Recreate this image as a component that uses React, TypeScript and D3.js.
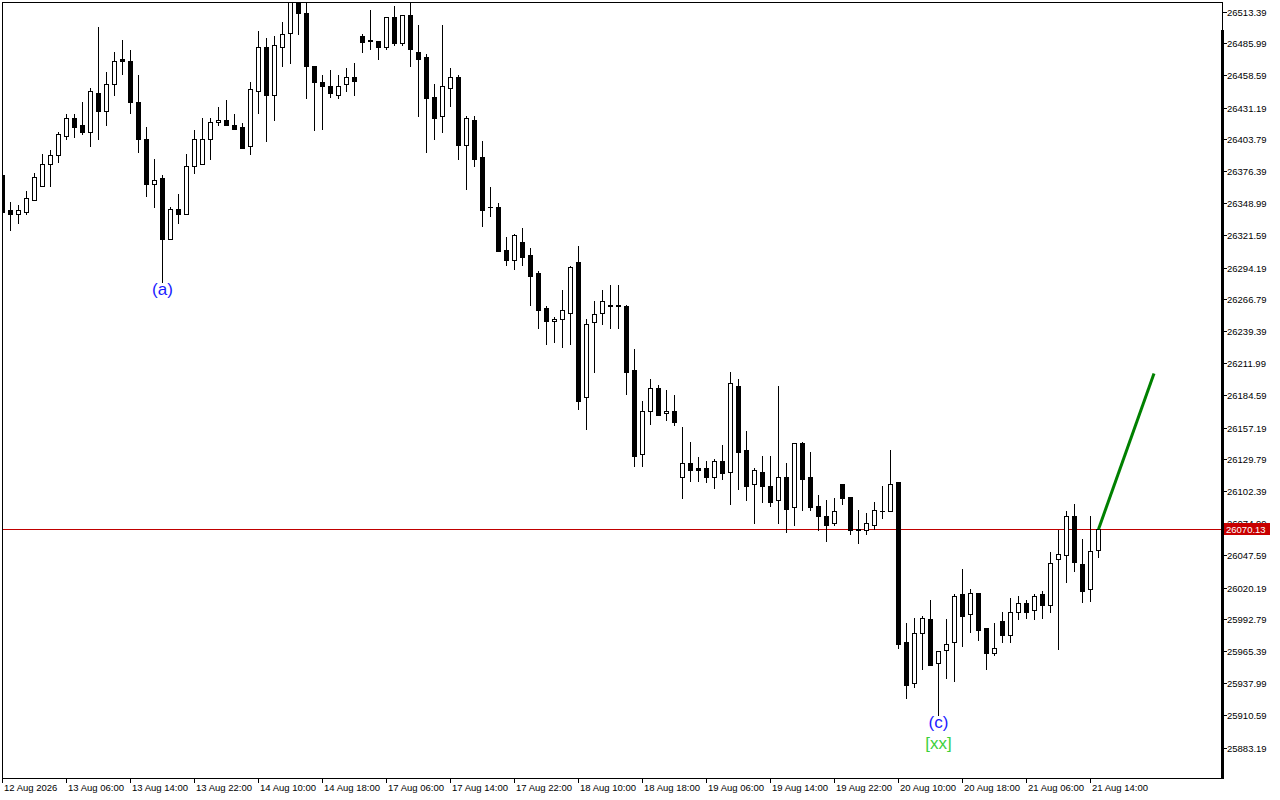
import { useMemo } from 'react';
import * as d3 from 'd3';

// hourly candles
const opens = [
  26373.0, 26343.0, 26339.6, 26342.1, 26352.4, 26364.4, 26383.2, 26390.9, 26407.2, 26422.6,
  26416.6, 26409.8, 26444.0, 26428.6, 26451.7, 26473.1, 26470.6, 26436.3, 26404.6, 26366.1,
  26371.2, 26318.2, 26344.7, 26340.4, 26380.7, 26383.2, 26403.8, 26419.2, 26420.9, 26416.6,
  26414.9, 26397.8, 26445.7, 26482.6, 26441.5, 26482.6, 26495.4, 26525.4, 26512.5, 26467.1,
  26453.4, 26450.0, 26442.3, 26450.9, 26456.9, 26492.8, 26489.4, 26488.5, 26482.6, 26509.1,
  26486.0, 26510.0, 26478.3, 26474.8, 26440.6, 26423.5, 26448.3, 26456.9, 26399.5, 26420.9,
  26388.4, 26346.4, 26346.4, 26309.6, 26300.2, 26316.4, 26305.3, 26289.9, 26259.9, 26248.8,
  26250.5, 26255.6, 26298.5, 26182.9, 26247.1, 26255.6, 26262.5, 26262.5, 26261.6, 26206.0,
  26134.9, 26170.9, 26190.6, 26169.2, 26171.7, 26115.2, 26127.2, 26122.1, 26122.9, 26114.4,
  26128.1, 26119.5, 26193.1, 26137.5, 26108.4, 26119.5, 26107.5, 26095.5, 26115.2, 26088.7,
  26144.3, 26114.4, 26090.4, 26081.8, 26075.0, 26109.2, 26098.1, 26070.7, 26069.8, 26074.1,
  26086.1, 26086.1, 26110.1, 25973.1, 25938.0, 25981.6, 25993.6, 25955.9, 25967.1, 25973.1,
  26015.0, 25997.1, 26015.9, 25985.1, 25963.7, 25991.1, 25979.1, 25999.6, 26007.3, 26000.5,
  26014.2, 26005.6, 26044.2, 26048.4, 26081.8, 26039.9, 26019.3, 26052.7,
];

const highs = [
  26374.7, 26350.7, 26348.1, 26360.1, 26374.7, 26391.8, 26394.4, 26410.6, 26425.2, 26426.0,
  26436.3, 26448.3, 26499.7, 26462.0, 26479.1, 26489.4, 26480.0, 26458.6, 26414.1, 26387.5,
  26373.8, 26345.6, 26356.7, 26391.8, 26411.5, 26422.6, 26421.8, 26432.0, 26437.2, 26425.2,
  26417.5, 26452.6, 26497.1, 26490.3, 26492.0, 26504.0, 26530.0, 26532.0, 26524.0, 26467.1,
  26459.4, 26463.7, 26459.4, 26465.4, 26468.9, 26494.5, 26515.1, 26488.5, 26509.1, 26517.7,
  26510.0, 26521.1, 26502.2, 26476.6, 26450.9, 26502.2, 26465.4, 26459.4, 26423.5, 26423.5,
  26402.9, 26363.5, 26349.0, 26319.9, 26323.3, 26327.6, 26311.3, 26290.8, 26261.6, 26251.4,
  26275.3, 26295.9, 26313.0, 26249.7, 26265.9, 26275.3, 26279.6, 26278.8, 26262.5, 26224.8,
  26180.3, 26199.1, 26194.0, 26189.7, 26185.4, 26157.2, 26145.2, 26132.3, 26128.1, 26129.8,
  26141.8, 26205.1, 26199.1, 26153.8, 26122.1, 26133.2, 26133.2, 26193.1, 26127.2, 26143.5,
  26145.2, 26135.8, 26099.8, 26095.5, 26097.2, 26109.2, 26098.1, 26086.9, 26084.4, 26093.0,
  26107.5, 26137.5, 26110.1, 25989.4, 25994.5, 25995.4, 26009.9, 25966.2, 25993.6, 26015.0,
  26036.4, 26019.3, 26015.9, 25985.1, 25989.4, 25998.8, 26010.8, 26013.3, 26009.9, 26014.2,
  26017.6, 26050.2, 26069.8, 26085.3, 26091.3, 26061.3, 26081.8, 26070.13,
];

const lows = [
  26340.4, 26325.9, 26331.9, 26340.4, 26351.6, 26364.4, 26364.4, 26384.1, 26403.8, 26406.3,
  26408.9, 26397.8, 26403.8, 26416.6, 26441.5, 26460.3, 26426.9, 26393.5, 26355.0, 26346.4,
  26282.2, 26318.2, 26332.7, 26340.4, 26374.7, 26383.2, 26386.7, 26415.8, 26415.8, 26413.2,
  26396.1, 26391.8, 26426.9, 26402.1, 26420.9, 26466.3, 26468.9, 26494.5, 26439.7, 26412.3,
  26413.2, 26440.6, 26438.9, 26445.7, 26441.5, 26479.1, 26481.7, 26472.3, 26481.7, 26485.1,
  26484.3, 26467.1, 26423.5, 26393.5, 26404.6, 26410.6, 26432.9, 26386.7, 26361.0, 26381.5,
  26329.3, 26338.7, 26307.9, 26296.7, 26292.5, 26296.7, 26262.5, 26242.8, 26228.3, 26230.8,
  26225.7, 26229.1, 26173.4, 26156.3, 26205.1, 26245.4, 26242.8, 26242.8, 26186.3, 26124.6,
  26124.6, 26160.6, 26168.3, 26163.2, 26159.7, 26097.2, 26111.8, 26111.8, 26110.1, 26105.8,
  26113.5, 26092.1, 26104.9, 26095.5, 26075.8, 26093.0, 26090.4, 26075.0, 26068.1, 26073.3,
  26086.9, 26086.9, 26069.8, 26059.6, 26074.1, 26092.1, 26066.4, 26057.9, 26065.6, 26070.7,
  26079.3, 26085.3, 25968.8, 25925.2, 25934.6, 25950.0, 25954.2, 25910.6, 25943.1, 25940.5,
  25969.7, 25982.5, 25975.6, 25950.8, 25962.0, 25973.1, 25973.1, 25993.6, 25994.5, 25992.8,
  25994.5, 25998.8, 25967.9, 26024.5, 26033.9, 26008.2, 26009.0, 26046.7,
];

const closes = [
  26342.1, 26339.6, 26343.0, 26353.3, 26372.1, 26383.2, 26390.9, 26408.1, 26422.6, 26414.9,
  26409.8, 26444.9, 26427.8, 26450.9, 26471.4, 26471.4, 26436.3, 26403.8, 26366.1, 26368.7,
  26318.2, 26344.7, 26339.6, 26380.7, 26404.6, 26403.8, 26419.2, 26420.9, 26415.8, 26413.2,
  26396.9, 26447.4, 26482.6, 26441.5, 26484.3, 26494.5, 26522.0, 26511.7, 26466.3, 26452.6,
  26449.2, 26443.2, 26450.0, 26457.7, 26454.3, 26487.7, 26488.5, 26482.6, 26509.1, 26486.0,
  26510.0, 26481.7, 26473.1, 26438.9, 26422.6, 26449.2, 26456.9, 26399.5, 26421.8, 26386.7,
  26343.8, 26345.6, 26308.7, 26300.2, 26321.6, 26303.6, 26287.3, 26258.2, 26248.8, 26250.5,
  26258.2, 26295.0, 26180.3, 26246.2, 26254.8, 26265.9, 26261.6, 26261.6, 26205.1, 26133.2,
  26170.9, 26190.6, 26168.3, 26171.7, 26162.3, 26126.4, 26120.4, 26121.2, 26115.2, 26128.9,
  26118.6, 26194.9, 26136.6, 26106.7, 26120.4, 26107.5, 26093.8, 26115.2, 26087.8, 26143.5,
  26113.5, 26089.5, 26081.0, 26074.1, 26086.1, 26097.2, 26069.8, 26069.8, 26075.0, 26086.9,
  26085.3, 26109.2, 25971.4, 25937.1, 25981.6, 25994.5, 25954.2, 25966.2, 25972.2, 26013.3,
  25995.4, 26015.9, 25983.4, 25963.7, 25968.8, 25979.1, 25998.8, 26007.3, 25998.8, 26013.3,
  26005.6, 26040.8, 26049.3, 26081.8, 26041.6, 26017.6, 26051.8, 26070.13,
];

// one label every 8 bars
const timeLabels = [
  '12 Aug 2026', '13 Aug 06:00', '13 Aug 14:00', '13 Aug 22:00', '14 Aug 10:00', '14 Aug 18:00',
  '17 Aug 06:00', '17 Aug 14:00', '17 Aug 22:00', '18 Aug 10:00', '18 Aug 18:00', '19 Aug 06:00',
  '19 Aug 14:00', '19 Aug 22:00', '20 Aug 10:00', '20 Aug 18:00', '21 Aug 06:00', '21 Aug 14:00',
];
const labelEvery = 8;

const priceTicks = [
  26513.39, 26485.99, 26458.59, 26431.19, 26403.79, 26376.39, 26348.99, 26321.59,
  26294.19, 26266.79, 26239.39, 26211.99, 26184.59, 26157.19, 26129.79, 26102.39,
  26074.99, 26047.59, 26020.19, 25992.79, 25965.39, 25937.99, 25910.59, 25883.19,
];

const lastPrice = 26070.13;
const projection = { fromBar: 137, toBar: 144, toPrice: 26203.4 };

const waveLabels = [
  { bar: 20, text: '(a)', degree: 'minor' },
  { bar: 117, text: '(c)', degree: 'minor' },
  { bar: 117, text: '[xx]', degree: 'intermediate' },
];

const W = 1280;
const H = 800;
const plot = { left: 2, right: 1222, top: 2, bottom: 778 };

const App = () => {
  const xScale = useMemo(
    () => d3.scaleLinear().domain([0, opens.length - 1]).range([2, 1098]),
    []
  );
  const yScale = useMemo(
    () => d3.scaleLinear().domain([priceTicks[priceTicks.length - 1], priceTicks[0]]).range([747.5, 11.5]),
    []
  );

  const candles = opens.map((o, i) => ({ i, o, h: highs[i], l: lows[i], c: closes[i] }));

  const lastY = Math.round(yScale(lastPrice)) + 0.5;

  const projectionPath = d3.line<[number, number]>()([
    [xScale(projection.fromBar) + 0.5, yScale(lastPrice)],
    [xScale(projection.toBar), yScale(projection.toPrice)],
  ]) || undefined;

  const labelStyle: Record<string, { color: string; dy: number }> = {
    minor: { color: '#1a1aff', dy: 13 },
    intermediate: { color: '#3ccf3c', dy: 34 },
  };

  return (
    <svg
      width={W}
      height={H}
      style={{ position: 'absolute', left: 0, top: 0, background: '#fff', fontFamily: '"Liberation Sans", Arial, sans-serif' }}
    >
      <defs>
        <clipPath id="plotClip">
          <rect x={plot.left + 1} y={plot.top + 1} width={plot.right - plot.left - 1} height={plot.bottom - plot.top - 1} />
        </clipPath>
      </defs>

      {/* last price line */}
      <line x1={plot.left} x2={plot.right} y1={lastY} y2={lastY} stroke="#c00000" strokeWidth={1} />

      {/* candles */}
      <g clipPath="url(#plotClip)" shapeRendering="crispEdges">
        {candles.map(({ i, o, h, l, c }) => {
          const cx = Math.round(xScale(i));
          const yH = Math.round(yScale(h));
          const yL = Math.round(yScale(l));
          const yTop = Math.round(yScale(Math.max(o, c)));
          const yBot = Math.round(yScale(Math.min(o, c)));
          const bull = c > o;
          return (
            <g key={i}>
              <rect x={cx} y={yH} width={1} height={Math.max(1, yL - yH + 1)} fill="#000" />
              {bull ? (
                <rect
                  x={cx - 1.5}
                  y={yTop + 0.5}
                  width={4}
                  height={Math.max(1, yBot - yTop)}
                  fill="#fff"
                  stroke="#000"
                  strokeWidth={1}
                />
              ) : (
                <rect x={cx - 2} y={yTop} width={5} height={Math.max(1, yBot - yTop + 1)} fill="#000" />
              )}
            </g>
          );
        })}
      </g>

      {/* projection */}
      <path d={projectionPath} stroke="#008000" strokeWidth={3} fill="none" />

      {/* wave labels */}
      {waveLabels.map((w) => (
        <text
          key={w.text}
          x={xScale(w.bar) + 0.5}
          y={yScale(lows[w.bar]) + labelStyle[w.degree].dy}
          fill={labelStyle[w.degree].color}
          fontSize={17}
          textAnchor="middle"
        >
          {w.text}
        </text>
      ))}

      {/* frame */}
      <g shapeRendering="crispEdges">
        <path
          d={`M${plot.left + 0.5},${plot.top + 0.5}H${plot.right + 0.5}V${plot.bottom + 0.5}H${plot.left + 0.5}Z`}
          fill="none"
          stroke="#000"
        />
        <rect x={plot.right - 1} y={30} width={3} height={plot.bottom - 30 + 1} fill="#000" />
      </g>

      {/* price axis */}
      {priceTicks.map((v) => {
        const y = Math.round(yScale(v)) + 0.5;
        return (
          <g key={v}>
            <line x1={plot.right + 1} x2={plot.right + 5} y1={y} y2={y} stroke="#000" shapeRendering="crispEdges" />
            <text x={plot.right + 5} y={y + 3.5} fontSize={9.5} fill="#000">
              {v.toFixed(2)}
            </text>
          </g>
        );
      })}

      {/* last price tag */}
      <rect x={plot.right + 2} y={lastY - 6.5} width={46} height={12} fill="#c80000" />
      <text x={plot.right + 4} y={lastY + 3.5} fontSize={9.5} fill="#fff">
        {lastPrice.toFixed(2)}
      </text>

      {/* time axis */}
      {timeLabels.map((t, k) => {
        const x = Math.round(xScale(k * labelEvery)) + 0.5;
        return (
          <g key={t}>
            <line x1={x} x2={x} y1={plot.bottom} y2={plot.bottom + 5} stroke="#000" shapeRendering="crispEdges" />
            <text x={x + 1.5} y={plot.bottom + 13} fontSize={9.5} fill="#000">
              {t}
            </text>
          </g>
        );
      })}
    </svg>
  );
};

export default App;
